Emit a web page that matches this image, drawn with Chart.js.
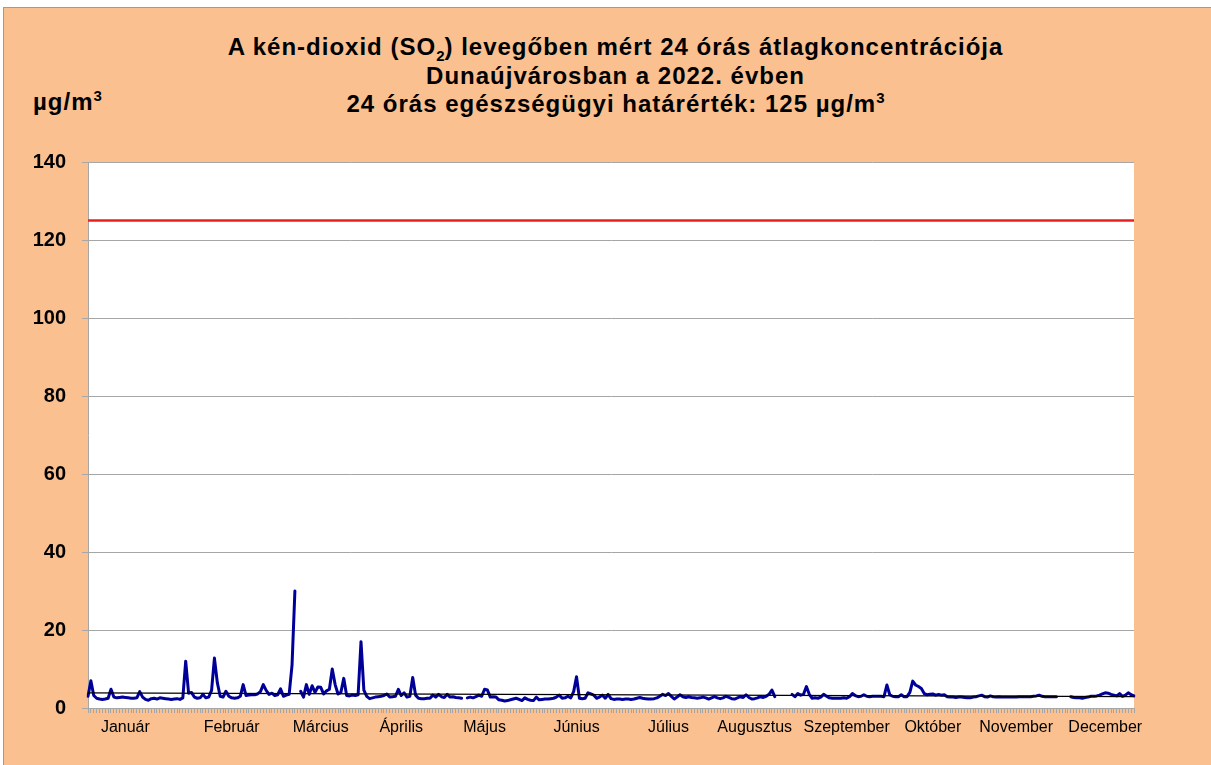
<!DOCTYPE html>
<html lang="hu">
<head>
<meta charset="utf-8">
<title>SO2 Dunaújváros 2022</title>
<script src="https://cdn.jsdelivr.net/npm/chart.js@4"></script>
<style>
  html, body { margin: 0; padding: 0; background: #fff; overflow: hidden; }
  body { width: 1211px; height: 765px; position: relative; font-family: Arial, "Liberation Sans", sans-serif; }
  #frame { position: absolute; left: 3px; top: 7px; width: 1220px; height: 780px; background: #fac090; border: 1px solid #9c9c9c; }
  #title { position: absolute; left: 0; top: 33px; width: 1231px; text-align: center; font-weight: bold; font-size: 24px; letter-spacing: 1px; line-height: 28.5px; color: #000; }
  #unit { position: absolute; left: 33px; top: 88px; font-weight: bold; font-size: 24px; letter-spacing: 1px; color: #000; }
  sub, sup { font-size: 15px; line-height: 0; letter-spacing: 0; }
  #chart { position: absolute; left: 0; top: 0; }
</style>
</head>
<body>
<div id="frame"></div>
<div id="title">A kén-dioxid (SO<sub>2</sub>) levegőben mért 24 órás átlagkoncentrációja<br>Dunaújvárosban a 2022. évben<br>24 órás egészségügyi határérték: 125 µg/m<sup>3</sup></div>
<div id="unit">µg/m<sup>3</sup></div>
<canvas id="chart" width="1211" height="765"></canvas>
<script>
// napi átlagok 2022 (µg/m3), null = nincs adat
const dailyValues = [
  3.0, 7.0, 3.2, 2.5, 2.3, 2.2, 2.3, 2.5, 4.8, 2.8,
  2.6, 2.7, 2.8, 2.7, 2.6, 2.5, 2.5, 2.6, 4.2, 2.8,
  2.2, 2.0, 2.4, 2.5, 2.3, 2.6, 2.5, 2.4, 2.3, 2.2,
  2.3, 2.4, 2.2, 2.6, 12.0, 3.8, 4.0, 2.8, 2.5, 2.6,
  3.5, 2.6, 2.8, 4.5, 12.8, 6.5, 3.0, 2.8, 4.3, 3.0,
  2.6, 2.5, 2.6, 3.0, 6.0, 3.2, 3.3, 3.4, 3.4, 3.6,
  4.2, 6.0, 4.5, 3.5, 3.8, 3.2, 3.4, 4.9, 3.0, 3.3,
  3.5, 11.0, 30.0, null, 4.3, 2.8, 6.0, 3.5, 5.7, 4.0,
  5.4, 5.3, 3.6, 4.4, 4.8, 10.0, 6.0, 3.6, 4.0, 7.6,
  3.2, 3.1, 3.3, 3.2, 3.4, 17.0, 4.6, 3.0, 2.4, 2.6,
  2.8, 2.9, 3.0, 3.2, 3.6, 2.8, 2.9, 3.0, 4.8, 3.2,
  3.9, 2.8, 3.0, 7.8, 3.3, 2.5, 2.4, 2.4, 2.5, 2.5,
  3.3, 2.8, 3.5, 2.9, 2.7, 3.5, 2.8, 2.9, 2.7, 2.6,
  2.5, null, 2.6, 2.8, 2.6, 2.9, 3.3, 3.0, 4.8, 4.6,
  2.8, 2.9, 2.8, 2.1, 2.0, 1.8, 1.9, 2.1, 2.3, 2.5,
  2.2, 1.9, 2.6, 2.2, 2.0, 1.9, 2.8, 2.1, 2.2, 2.3,
  2.3, 2.4, 2.5, 2.8, 3.3, 2.5, 2.6, 3.0, 2.6, 4.2,
  8.0, 2.5, 2.4, 2.5, 3.9, 3.6, 3.3, 2.5, 2.8, 3.3,
  2.5, 3.5, 2.4, 2.2, 2.3, 2.3, 2.2, 2.3, 2.3, 2.2,
  2.3, 2.5, 2.7, 2.5, 2.4, 2.3, 2.3, 2.4, 2.6, 3.0,
  3.5, 3.2, 3.7, 3.0, 2.3, 2.8, 3.4, 2.9, 2.7, 2.9,
  2.7, 2.6, 2.5, 2.6, 2.8, 2.6, 2.3, 2.6, 2.9, 2.6,
  2.4, 2.6, 3.0, 2.7, 2.4, 2.3, 2.6, 2.9, 2.7, 3.4,
  2.7, 2.3, 2.4, 2.6, 2.9, 2.7, 3.0, 3.5, 4.6, 2.9,
  null, null, null, null, null, 3.5, 2.9, 3.7, 3.3, 3.5,
  5.5, 3.5, 2.5, 2.6, 2.5, 2.8, 3.5, 3.0, 2.6, 2.5,
  2.5, 2.5, 2.5, 2.6, 2.5, 2.9, 3.7, 3.2, 2.9, 3.0,
  3.4, 3.0, 2.9, 3.0, 3.0, 3.0, 3.0, 2.9, 5.9, 3.4,
  3.0, 2.9, 2.9, 3.4, 2.9, 2.9, 4.0, 6.9, 5.9, 5.5,
  5.0, 3.7, 3.4, 3.5, 3.6, 3.3, 3.5, 3.3, 3.4, 2.9,
  2.8, 2.8, 2.7, 2.8, 2.8, 2.7, 2.6, 2.6, 2.8, 2.9,
  3.1, 3.3, 2.9, 2.8, 3.1, 2.9, 2.8, 2.9, 2.8, 2.8,
  2.8, 2.8, 2.8, 2.8, 2.9, 2.9, 2.9, 2.9, 2.9, 3.0,
  3.1, 3.3, 3.0, 2.9, 2.9, 2.9, 2.9, 2.9, null, null,
  null, null, 2.9, 2.7, 2.6, 2.6, 2.5, 2.7, 2.8, 3.0,
  3.0, 3.1, 3.3, 3.6, 3.9, 3.8, 3.5, 3.3, 3.1, 3.7,
  3.0, 3.3, 3.9, 3.4, 3.1
];

// hónapnevek és a nap, ahol a felirat áll
const monthNames = ["Január", "Február", "Március", "Április", "Május", "Június",
  "Július", "Augusztus", "Szeptember", "Október", "November", "December"];
const monthLabelDay = [13, 50, 81, 109, 138, 170, 202, 232, 264, 294, 323, 354];

const limitValue = 125;      // 24 órás egészségügyi határérték
const trendStart = 3.9;      // lineáris trend eleje
const trendEnd = 2.9;        // lineáris trend vége
const yTicks = [0, 20, 40, 60, 80, 100, 120, 140];

const labels = dailyValues.map((v, i) => {
  const k = monthLabelDay.indexOf(i);
  return k >= 0 ? monthNames[k] : "";
});
const last = dailyValues.length - 1;
const endsOnly = (a, b) => dailyValues.map((v, i) => (i === 0 ? a : i === last ? b : null));

const plotBg = {
  id: "plotBg",
  beforeDraw: (chart) => {
    const { ctx, chartArea: a } = chart;
    ctx.save();
    ctx.fillStyle = "#ffffff";
    ctx.fillRect(a.left, a.top, a.right - a.left, a.bottom - a.top);
    ctx.restore();
  },
};

Chart.defaults.font.family = "Arial, 'Liberation Sans', sans-serif";
Chart.defaults.color = "#000";

new Chart(document.getElementById("chart"), {
  type: "line",
  data: {
    labels: labels,
    datasets: [
      {
        label: "Határérték",
        data: endsOnly(limitValue, limitValue),
        borderColor: "#e8201c",
        borderWidth: 2.5,
        pointRadius: 0,
        spanGaps: true,
        order: 3,
      },
      {
        label: "Trend",
        data: endsOnly(trendStart, trendEnd),
        borderColor: "#000000",
        borderWidth: 1.2,
        pointRadius: 0,
        spanGaps: true,
        order: 1,
      },
      {
        label: "SO2",
        data: dailyValues,
        borderColor: "#000099",
        borderWidth: 3,
        borderJoinStyle: "round",
        borderCapStyle: "round",
        pointRadius: 0,
        tension: 0,
        spanGaps: false,
        order: 2,
      },
    ],
  },
  options: {
    responsive: false,
    animation: false,
    devicePixelRatio: 1,
    layout: { padding: { top: 162, right: 77, left: 0, bottom: 0 } },
    plugins: { legend: { display: false }, tooltip: { enabled: false } },
    scales: {
      x: {
        type: "category",
        offset: false,
        grid: { display: true, drawOnChartArea: false, tickLength: 5, color: "#a6a6a6", lineWidth: 1 },
        border: { color: "#a6a6a6" },
        ticks: {
          autoSkip: false,
          maxRotation: 0,
          minRotation: 0,
          padding: 5,
          font: { size: 16 },
        },
        afterFit: (scale) => { scale.height = 57; },
      },
      y: {
        min: 0,
        max: 140,
        afterBuildTicks: (scale) => { scale.ticks = yTicks.map((v) => ({ value: v })); },
        grid: { color: "#a6a6a6", lineWidth: 1, tickLength: 6 },
        border: { color: "#a6a6a6" },
        ticks: { padding: 16, font: { size: 20, weight: "bold" } },
        afterFit: (scale) => { scale.width = 88; },
      },
    },
  },
  plugins: [plotBg],
});
</script>
</body>
</html>
